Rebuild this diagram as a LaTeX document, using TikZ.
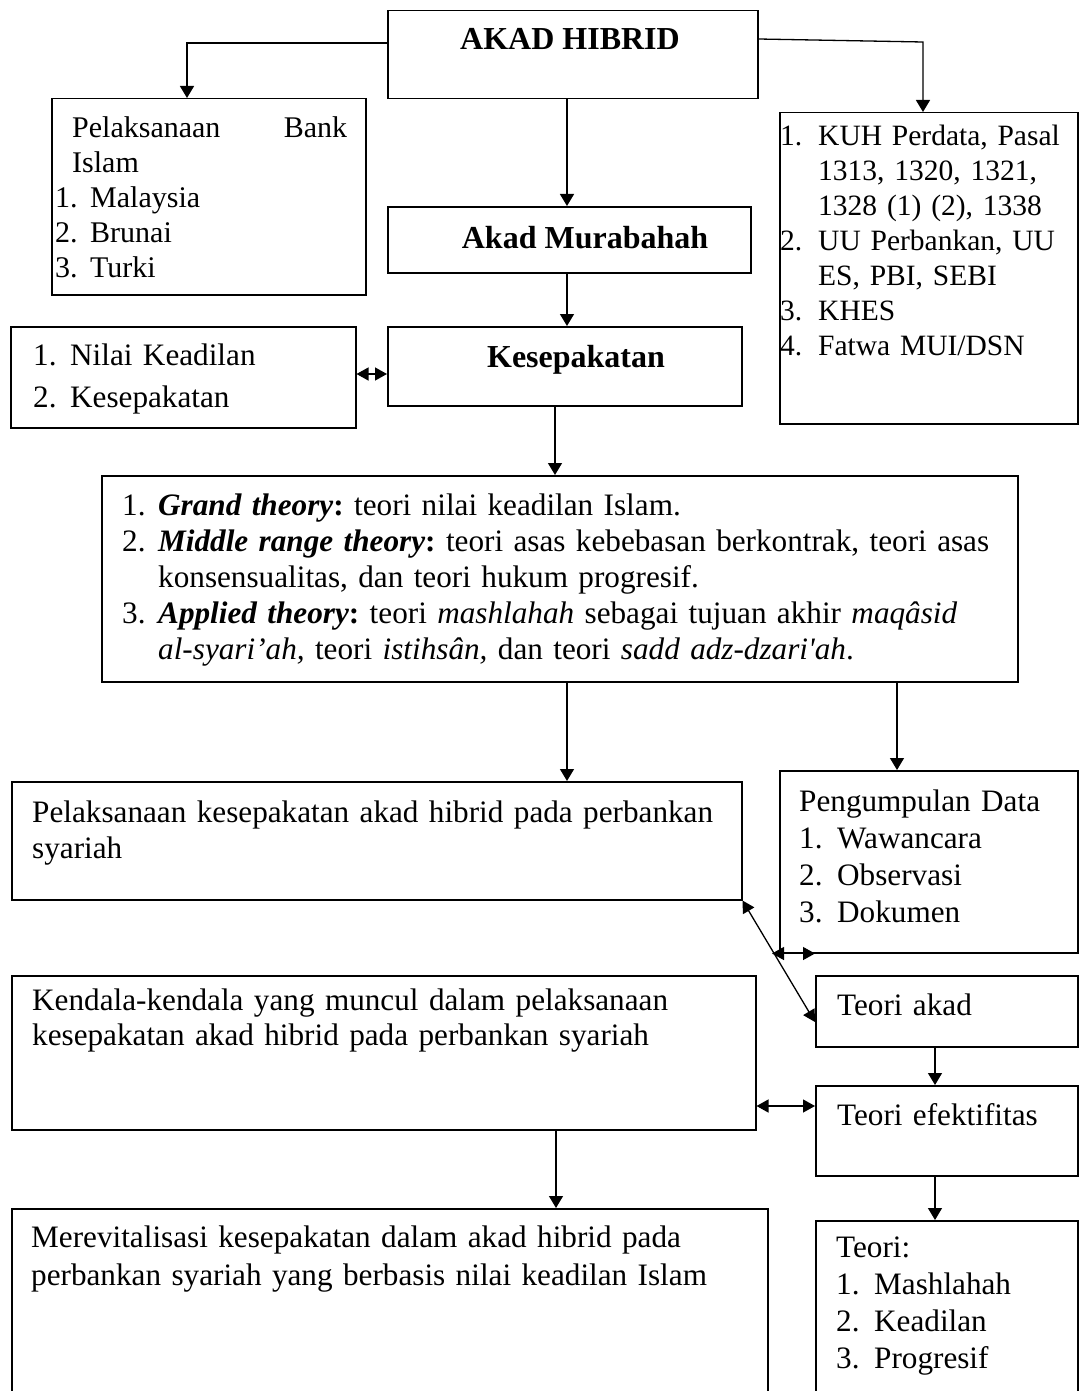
\documentclass[tikz,border=0pt]{standalone}
\usepackage{fontspec}
\setmainfont{Liberation Serif}
\usetikzlibrary{arrows.meta,calc}
\frenchspacing
\begin{document}
\begin{tikzpicture}[x=1pt,y=-1pt,
  box/.style={draw, line width=1.5pt, anchor=north west, inner sep=0pt},
  arr/.style={line width=1.3pt, -{Triangle[length=12pt,width=14pt]}},
  dbl/.style={line width=1.3pt, {Triangle[length=12pt,width=13pt]}-{Triangle[length=12pt,width=13pt]}},
  txt/.style={anchor=base west, inner sep=0pt, align=left, text width=#1},
  ttl/.style={anchor=base, inner sep=0pt, font=\fontsize{32}{36}\selectfont\bfseries}]
\useasboundingbox (0,0) rectangle (1079,1391);
\fill[white] (0,0) rectangle (1079,1391);
\clip (0,0) rectangle (1079,1391);
% boxes
\node[box, minimum width=370pt, minimum height=88pt] (hib) at (387,10) {};
\node[box, minimum width=314pt, minimum height=196pt] (lbank) at (51,98) {};
\node[box, minimum width=363pt, minimum height=66pt] (murab) at (387,206) {};
\node[box, minimum width=354pt, minimum height=79pt] (kes) at (387,326) {};
\node[box, minimum width=345pt, minimum height=101pt] (nilai) at (10,326) {};
\node[box, minimum width=298pt, minimum height=311pt] (kuh) at (779,112) {};
\node[box, minimum width=916pt, minimum height=206pt] (theory) at (101,475) {};
\node[box, minimum width=730pt, minimum height=118pt] (pel) at (11,781) {};
\node[box, minimum width=298pt, minimum height=182pt] (peng) at (779,770) {};
\node[box, minimum width=262pt, minimum height=71pt] (tak) at (815,975) {};
\node[box, minimum width=744pt, minimum height=154pt] (kend) at (11,975) {};
\node[box, minimum width=262pt, minimum height=90pt] (tef) at (815,1085) {};
\node[box, minimum width=756pt, minimum height=200pt] (merev) at (11,1208) {};
\node[box, minimum width=262pt, minimum height=190pt] (teori) at (815,1220) {};
% connectors
\draw[arr] ($(hib.north west)+(0,33)$) -| ($(lbank.north west)+(136,0)$);
\draw[arr] ($(hib.north east)+(0,29)$) -- ($(kuh.north west)+(144,-70)$) -- ($(kuh.north west)+(144,0)$);
\draw[arr] ($(hib.south west)+(180,0)$) -- ($(murab.north west)+(180,0)$);
\draw[arr] ($(murab.south west)+(180,0)$) -- ($(kes.north west)+(180,0)$);
\draw[dbl] ($(nilai.north east)+(0,48)$) -- ($(kes.north west)+(0,48)$);
\draw[arr] ($(kes.south west)+(168,0)$) -- ($(theory.north west)+(454,0)$);
\draw[arr] ($(theory.south west)+(466,0)$) -- ($(pel.north west)+(556,0)$);
\draw[arr] ($(theory.south west)+(796,0)$) -- ($(peng.north west)+(118,0)$);
\draw[dbl] (pel.south east) -- ($(tak.north west)+(0,47)$);
\draw[dbl] ($(peng.south west)+(-7,0)$) -- ($(peng.south west)+(36,0)$);
\draw[arr] ($(tak.south west)+(120,0)$) -- ($(tef.north west)+(120,0)$);
\draw[dbl] ($(kend.north east)+(0,131)$) -- ($(tef.north west)+(0,21)$);
\draw[arr] ($(kend.south west)+(545,0)$) -- ($(merev.north west)+(545,0)$);
\draw[arr] ($(tef.south west)+(120,0)$) -- ($(teori.north west)+(120,0)$);
% texts
\node[ttl] (thib) at (570,50) {AKAD HIBRID};
\node[ttl] (tmurab) at (585,248) {Akad Murabahah};
\node[ttl] (tkes) at (576,367) {Kesepakatan};
\node[txt=292pt, font=\fontsize{30}{34.8}\selectfont] (tlbank) at (55,138)
  {\hspace*{17pt}Pelaksanaan\hfill Bank\\
   \hspace*{17pt}Islam\\
   \makebox[35pt][l]{1.}Malaysia\\
   \makebox[35pt][l]{2.}Brunai\\
   \makebox[35pt][l]{3.}Turki};
\node[txt=320pt, font=\fontsize{31.2}{42}\selectfont] (tnilai) at (33,365)
  {\makebox[37pt][l]{1.}Nilai Keadilan\\
   \makebox[37pt][l]{2.}Kesepakatan};
\node[txt=296pt, font=\fontsize{29.5}{35}\selectfont] (tkuh) at (780,146)
  {\makebox[38pt][l]{1.}KUH Perdata, Pasal\\
   \hspace*{38pt}1313, 1320, 1321,\\
   \hspace*{38pt}1328 (1) (2), 1338\\
   \makebox[38pt][l]{2.}UU Perbankan, UU\\
   \hspace*{38pt}ES, PBI, SEBI\\
   \makebox[38pt][l]{3.}KHES\\
   \makebox[38pt][l]{4.}Fatwa MUI/DSN};
\node[txt=890pt, font=\fontsize{31.2}{36.2}\selectfont] (ttheory) at (122,515)
  {\makebox[36pt][l]{1.}\textbf{\textit{Grand theory}:} teori nilai keadilan Islam.\\
   \makebox[36pt][l]{2.}\makebox[829pt][s]{\textbf{\textit{Middle range theory}:} teori asas kebebasan berkontrak, teori asas}\\
   \hspace*{36pt}konsensualitas, dan teori hukum progresif.\\
   \makebox[36pt][l]{3.}\makebox[801pt][s]{\textbf{\textit{Applied theory}:} teori \textit{mashlahah} sebagai tujuan akhir \textit{maqâsid}}\\
   \hspace*{36pt}\textit{al-syari’ah,} teori \textit{istihsân,} dan teori \textit{sadd adz-dzari\textquotesingle ah}.};
\node[txt=705pt, font=\fontsize{31.2}{36}\selectfont] (tpel) at (32,822)
  {\makebox[683pt][s]{Pelaksanaan kesepakatan akad hibrid pada perbankan}\\syariah};
\node[txt=270pt, font=\fontsize{31.2}{37}\selectfont] (tpeng) at (799,811)
  {Pengumpulan Data\\
   \makebox[38pt][l]{1.}Wawancara\\
   \makebox[38pt][l]{2.}Observasi\\
   \makebox[38pt][l]{3.}Dokumen};
\node[txt=235pt, font=\fontsize{31.2}{36}\selectfont] (ttak) at (837,1015) {Teori akad};
\node[txt=235pt, font=\fontsize{31.2}{36}\selectfont] (ttef) at (837,1125) {Teori efektifitas};
\node[txt=715pt, font=\fontsize{31.2}{35}\selectfont] (tkend) at (32,1010)
  {Kendala-kendala yang muncul dalam pelaksanaan\\kesepakatan akad hibrid pada perbankan syariah};
\node[txt=730pt, font=\fontsize{31.2}{38}\selectfont] (tmerev) at (31,1247)
  {Merevitalisasi kesepakatan dalam akad hibrid pada\\perbankan syariah yang berbasis nilai keadilan Islam};
\node[txt=235pt, font=\fontsize{31.2}{37}\selectfont] (tteori) at (836,1257)
  {Teori:\\
   \makebox[38pt][l]{1.}Mashlahah\\
   \makebox[38pt][l]{2.}Keadilan\\
   \makebox[38pt][l]{3.}Progresif};
\end{tikzpicture}
\end{document}
